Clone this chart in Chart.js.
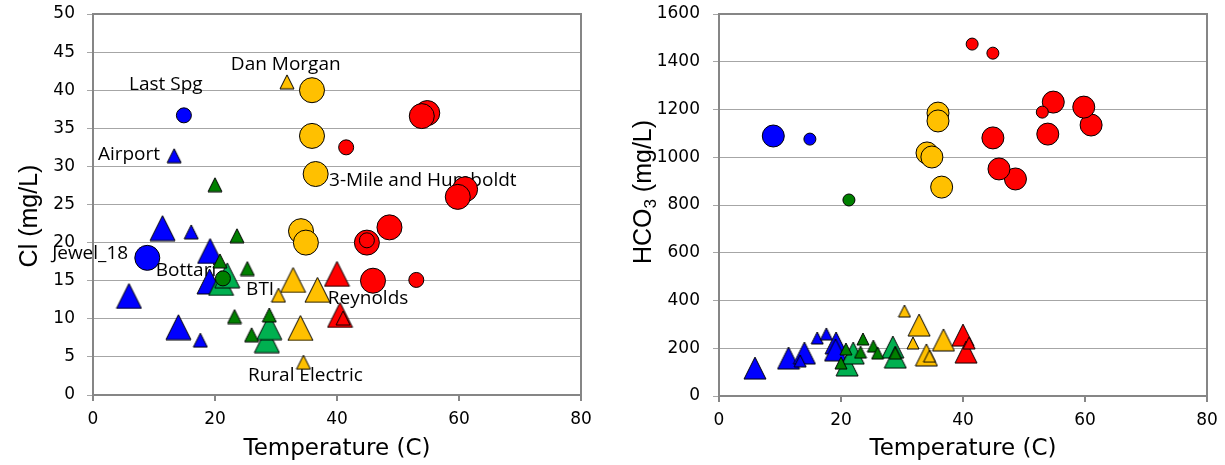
<!DOCTYPE html>
<html>
<head>
<meta charset="utf-8">
<script src="https://cdn.jsdelivr.net/npm/chart.js@4.4.1/dist/chart.umd.min.js"></script>
<style>
  body { margin: 0; background: #fff; }
  #wrap { position: relative; width: 1225px; height: 465px; }
  .box { position: absolute; top: 0; height: 465px; }
</style>
</head>
<body>
<div id="wrap">
  <div class="box" style="left:0;width:612px"><canvas id="clChart"></canvas></div>
  <div class="box" style="left:612px;width:613px"><canvas id="hco3Chart"></canvas></div>
</div>
<script>
// temperature (C), chloride (mg/L) and bicarbonate (mg/L) per marker group
const blueCircleLgT = [8.9];
const blueCircleLgCl = [18.0];
const blueCircleLgHco3 = [1089];

const blueCircleSmT = [14.9];
const blueCircleSmCl = [36.7];
const blueCircleSmHco3 = [1076];

const blueTriLgT = [5.9, 11.4, 14.0, 19.2, 19.1];
const blueTriLgCl = [13.0, 21.9, 8.9, 18.9, 14.9];
const blueTriLgHco3 = [117, 159, 180, 222, 193];

const blueTriSmT = [13.3, 16.1, 17.6];
const blueTriSmCl = [31.4, 21.4, 7.2];
const blueTriSmHco3 = [147, 243, 260];

const greenCircleSmT = [21.3];
const greenCircleSmCl = [15.3];
const greenCircleSmHco3 = [821];

const greenTriSmT = [20.0, 20.8, 23.2, 23.6, 25.3, 26.0, 28.9];
const greenTriSmCl = [27.6, 17.6, 10.3, 20.9, 16.6, 7.9, 10.5];
const greenTriSmHco3 = [138, 197, 184, 239, 209, 180, 180];

const greenTriLgT = [21.0, 22.0, 28.5, 28.9];
const greenTriLgCl = [14.7, 15.7, 7.2, 8.9];
const greenTriLgHco3 = [130, 180, 205, 163];

const yellowCircleLgT = [35.9, 35.9, 36.5, 34.1, 34.9];
const yellowCircleLgCl = [40.0, 34.0, 29.0, 21.5, 20.0];
const yellowCircleLgHco3 = [1185, 1152, 875, 1018, 1001];

const yellowTriLgT = [32.8, 36.8, 34.0];
const yellowTriLgCl = [15.1, 13.8, 8.8];
const yellowTriLgHco3 = [297, 235, 172];

const yellowTriSmT = [31.8, 30.4, 34.5];
const yellowTriSmCl = [41.1, 13.1, 4.3];
const yellowTriSmHco3 = [222, 356, 167];

const redCircleLgT = [54.8, 53.9, 61.0, 59.8, 48.6, 44.9, 45.9];
const redCircleLgCl = [37.0, 36.6, 27.0, 26.0, 22.0, 20.0, 15.0];
const redCircleLgHco3 = [1231, 1097, 1135, 1210, 909, 1081, 951];

const redCircleSmT = [41.5, 44.9, 53.0];
const redCircleSmCl = [32.5, 20.3, 15.1];
const redCircleSmHco3 = [1474, 1436, 1189];

const redTriLgT = [40.0, 40.5];
const redTriLgCl = [15.9, 10.5];
const redTriLgHco3 = [255, 184];

const redTriSmT = [41.0];
const redTriSmCl = [10.1];
const redTriSmHco3 = [222];

const tempTicks = [0, 20, 40, 60, 80];
const clTicks = [0, 5, 10, 15, 20, 25, 30, 35, 40, 45, 50];
const hco3Ticks = [0, 200, 400, 600, 800, 1000, 1200, 1400, 1600];

// spring name labels on the Cl plot, anchored in data units (left edge, vertical middle)
const clLabels = [
    { text: 'Last Spg', x: 5.9, y: 40.7 },
    { text: 'Dan Morgan', x: 22.6, y: 43.4 },
    { text: 'Airport', x: 0.8, y: 31.5 },
    { text: '3-Mile and Humboldt', x: 38.7, y: 28.2 },
    { text: 'Jewel_18', x: -6.7, y: 18.5 },
    { text: 'Bottari', x: 10.3, y: 16.3 },
    { text: 'BTI', x: 25.1, y: 13.8 },
    { text: 'Reynolds', x: 38.5, y: 12.6 },
    { text: 'Rural Electric', x: 25.4, y: 2.5 }
];

const BLUE = '#0000FF', DKGREEN = '#008000', GREEN = '#00B050', GOLD = '#FFC000', RED = '#FF0000';

function triangleImage(size, fill) {
    const c = document.createElement('canvas');
    c.width = size + 2;
    c.height = size + 2;
    const g = c.getContext('2d');
    g.beginPath();
    g.moveTo(c.width / 2, 1);
    g.lineTo(size + 1, size + 1);
    g.lineTo(1, size + 1);
    g.closePath();
    g.fillStyle = fill;
    g.fill();
    g.lineWidth = 1;
    g.strokeStyle = '#000';
    g.stroke();
    return c;
}

const pts = (xs, ys) => xs.map((x, i) => ({ x: x, y: ys[i] }));

// first listed = drawn on top
const groups = [
    { t: redTriSmT, cl: redTriSmCl, hc: redTriSmHco3, color: RED, shape: 'tri', big: false },
    { t: yellowTriSmT, cl: yellowTriSmCl, hc: yellowTriSmHco3, color: GOLD, shape: 'tri', big: false },
    { t: greenTriSmT, cl: greenTriSmCl, hc: greenTriSmHco3, color: DKGREEN, shape: 'tri', big: false },
    { t: blueTriSmT, cl: blueTriSmCl, hc: blueTriSmHco3, color: BLUE, shape: 'tri', big: false },
    { t: redCircleSmT, cl: redCircleSmCl, hc: redCircleSmHco3, color: RED, shape: 'circle', big: false },
    { t: greenCircleSmT, cl: greenCircleSmCl, hc: greenCircleSmHco3, color: DKGREEN, shape: 'circle', big: false },
    { t: blueCircleSmT, cl: blueCircleSmCl, hc: blueCircleSmHco3, color: BLUE, shape: 'circle', big: false },
    { t: redTriLgT, cl: redTriLgCl, hc: redTriLgHco3, color: RED, shape: 'tri', big: true },
    { t: yellowTriLgT, cl: yellowTriLgCl, hc: yellowTriLgHco3, color: GOLD, shape: 'tri', big: true },
    { t: greenTriLgT, cl: greenTriLgCl, hc: greenTriLgHco3, color: GREEN, shape: 'tri', big: true },
    { t: blueTriLgT, cl: blueTriLgCl, hc: blueTriLgHco3, color: BLUE, shape: 'tri', big: true },
    { t: redCircleLgT, cl: redCircleLgCl, hc: redCircleLgHco3, color: RED, shape: 'circle', big: true },
    { t: yellowCircleLgT, cl: yellowCircleLgCl, hc: yellowCircleLgHco3, color: GOLD, shape: 'circle', big: true },
    { t: blueCircleLgT, cl: blueCircleLgCl, hc: blueCircleLgHco3, color: BLUE, shape: 'circle', big: true }
];

function buildDatasets(key, sizes) {
    return groups.map(g => {
        const isTri = g.shape === 'tri';
        const size = isTri ? (g.big ? sizes.triLg : sizes.triSm) : (g.big ? sizes.cirLg : sizes.cirSm);
        return {
            data: pts(g.t, g[key]),
            pointStyle: isTri ? triangleImage(size, g.color) : 'circle',
            pointRadius: size / 2,
            pointHoverRadius: size / 2,
            backgroundColor: g.color,
            borderColor: '#000',
            borderWidth: 1,
            showLine: false
        };
    });
}

// plot frame, spring labels and the rotated y title (with optional subscript)
const framePlugin = {
    id: 'frame',
    beforeDatasetsDraw(chart, args, opts) {
        const { ctx, chartArea: a, scales } = chart;
        ctx.save();
        ctx.strokeStyle = '#868686';
        ctx.lineWidth = 2;
        ctx.beginPath();
        ctx.moveTo(a.left, a.top);
        ctx.lineTo(a.right, a.top);
        ctx.lineTo(a.right, a.bottom);
        ctx.stroke();
        ctx.fillStyle = '#000';
        ctx.font = '19px "Open Sans"';
        ctx.textAlign = 'left';
        ctx.textBaseline = 'middle';
        (opts.labels || []).forEach(l => {
            ctx.fillText(l.text, scales.x.getPixelForValue(l.x), scales.y.getPixelForValue(l.y));
        });

        const t = opts.yTitle;
        if (t) {
            const big = '25px "Liberation Sans"';
            const small = '17px "Liberation Sans"';
            const parts = [
                { s: t.main, f: big, dy: 0 },
                { s: t.sub || '', f: small, dy: 5 },
                { s: t.rest || '', f: big, dy: 0 }
            ];
            let total = 0;
            parts.forEach(p => { ctx.font = p.f; p.w = ctx.measureText(p.s).width; total += p.w; });
            ctx.translate(t.x, t.y);
            ctx.rotate(-Math.PI / 2);
            ctx.textAlign = 'left';
            ctx.textBaseline = 'alphabetic';
            let cx = -total / 2;
            parts.forEach(p => {
                ctx.font = p.f;
                ctx.fillText(p.s, cx, 9 + p.dy);
                cx += p.w;
            });
        }
        ctx.restore();
    }
};

const tickFont = { family: 'DejaVu Sans', size: 17 };

function makeChart(id, key, yTicks, yTitle, dims, sizes, labels) {
    new Chart(document.getElementById(id), {
        type: 'scatter',
        data: { datasets: buildDatasets(key, sizes) },
        options: {
            responsive: true,
            maintainAspectRatio: false,
            animation: false,
            layout: { padding: { left: 0, right: dims.right, top: 14, bottom: 0 } },
            plugins: {
                legend: { display: false },
                tooltip: { enabled: false },
                frame: { labels: labels, yTitle: yTitle }
            },
            scales: {
                x: {
                    type: 'linear',
                    min: tempTicks[0],
                    max: tempTicks[tempTicks.length - 1],
                    afterBuildTicks: s => { s.ticks = tempTicks.map(v => ({ value: v })); },
                    afterFit: s => { s.height = dims.xh; s.paddingLeft = 0; s.paddingRight = 0; },
                    ticks: { color: '#000', font: tickFont, padding: 8, maxRotation: 0, callback: v => String(v) },
                    grid: { drawOnChartArea: false, drawTicks: true, tickLength: 6, color: '#868686', lineWidth: 2 },
                    border: { display: true, color: '#868686', width: 2 },
                    title: {
                        display: true, text: 'Temperature (C)', color: '#000',
                        font: { family: 'DejaVu Sans', size: 23 }, padding: { top: 0, bottom: 2 }
                    }
                },
                y: {
                    type: 'linear',
                    min: yTicks[0],
                    max: yTicks[yTicks.length - 1],
                    afterBuildTicks: s => { s.ticks = yTicks.map(v => ({ value: v })); },
                    afterFit: s => { s.width = dims.yw; s.paddingTop = 0; s.paddingBottom = 0; },
                    ticks: { color: '#000', font: tickFont, padding: dims.tp, callback: v => String(v) },
                    grid: { color: '#A6A6A6', lineWidth: 1, drawTicks: true, tickLength: 6 },
                    border: { display: true, color: '#868686', width: 2 }
                }
            }
        },
        plugins: [framePlugin]
    });
}

makeChart('clChart', 'cl', clTicks, { main: 'Cl (mg/L)', x: 28, y: 216 },
    { right: 31, xh: 70, yw: 93, tp: 12 },
    { triLg: 25, triSm: 14, cirLg: 25, cirSm: 15 },
    clLabels);

makeChart('hco3Chart', 'hc', hco3Ticks, { main: 'HCO', sub: '3', rest: ' (mg/L)', x: 30, y: 192 },
    { right: 18, xh: 69, yw: 107, tp: 13 },
    { triLg: 22, triSm: 12, cirLg: 22, cirSm: 12 },
    []);
</script>
</body>
</html>
